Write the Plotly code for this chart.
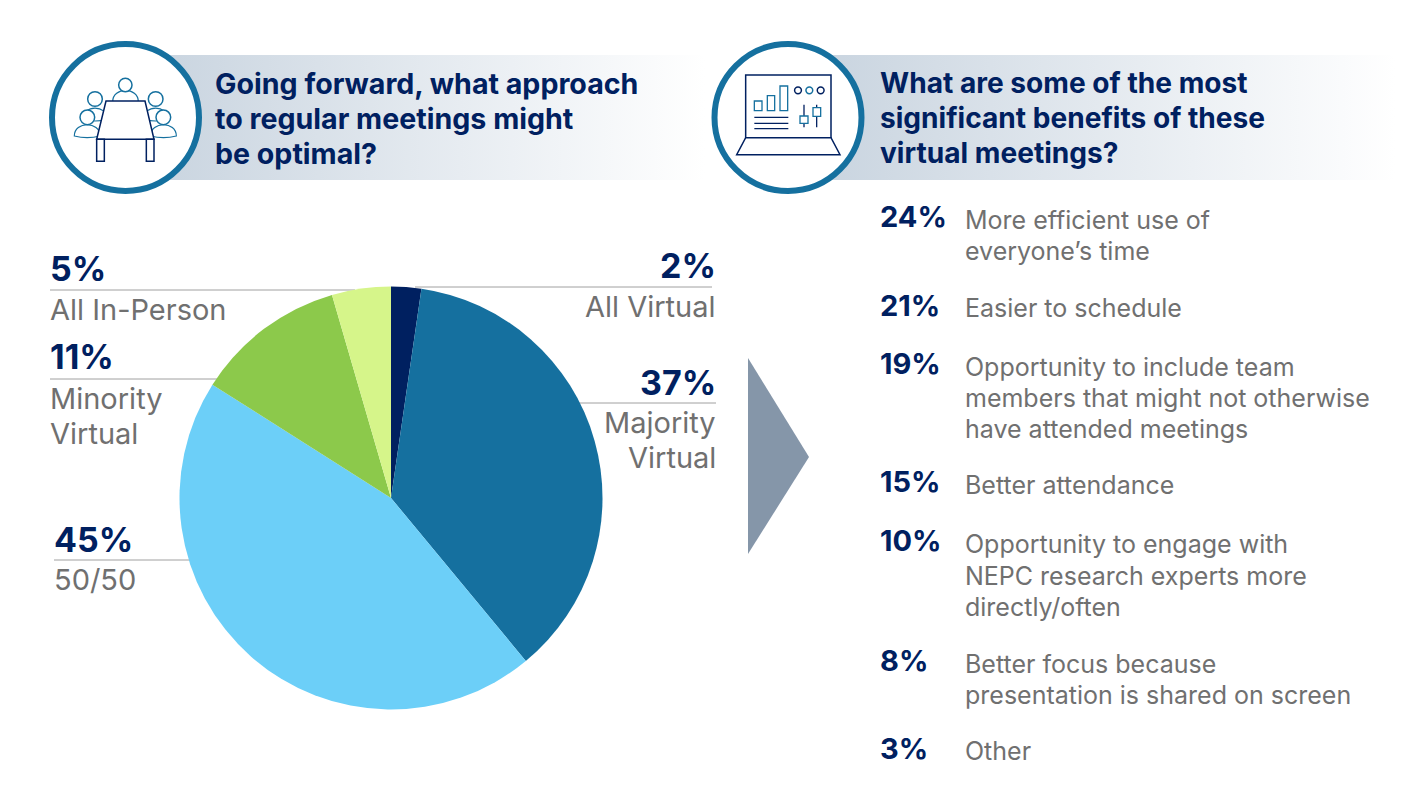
import plotly.graph_objects as go

NAVY = "#002060"
TEAL = "#15709F"
GRAY = "#707070"

pie_labels = ["All Virtual", "Majority Virtual", "50/50", "Minority Virtual", "All In-Person"]
pie_values = [2.3, 36.7, 45, 11.5, 4.5]
pie_colors = ["#002060", "#15709F", "#6CCFF8", "#8CC94B", "#D6F58A"]

titles_left = ["Going forward, what approach", "to regular meetings might", "be optimal?"]
titles_right = ["What are some of the most", "significant benefits of these", "virtual meetings?"]

pie_callouts = [
    ("5%", ["All In-Person"], 50, 268.5, "left", 50, 355, 290),
    ("11%", ["Minority", "Virtual"], 50, 356, "left", 50, 225, 379),
    ("45%", ["50/50"], 54, 539, "left", 54, 195, 560),
    ("2%", ["All Virtual"], 716, 265, "right", 415, 712, 287),
    ("37%", ["Majority", "Virtual"], 716, 382, "right", 570, 716, 403),
]

benefit_pcts = ["24%", "21%", "19%", "15%", "10%", "8%", "3%"]
benefit_pct_y = [216, 305, 363, 481, 540, 660, 748]
benefit_lines = [
    ["More efficient use of", "everyone’s time"],
    ["Easier to schedule"],
    ["Opportunity to include team", "members that might not otherwise", "have attended meetings"],
    ["Better attendance"],
    ["Opportunity to engage with", "NEPC research experts more", "directly/often"],
    ["Better focus because", "presentation is shared on screen"],
    ["Other"],
]
benefit_line_y = [[220, 251], [308], [367, 398, 429], [485], [544, 576, 607], [664, 695], [751]]

W, H = 1411, 809
FONT = "Inter"
fig = go.Figure()

for x0, x1 in [(125, 705), (788, 1395)]:
    fig.add_trace(go.Scatter(
        x=[x0, x1, x1, x0, x0], y=[55, 55, 180, 180, 55], mode="lines", line=dict(width=0),
        fill="toself", hoverinfo="skip", showlegend=False,
        fillgradient=dict(type="horizontal", colorscale=[[0, "#C6D2DE"], [1, "#FFFFFF"]]),
    ))

fig.add_trace(go.Pie(
    labels=pie_labels, values=pie_values, sort=False, direction="clockwise", rotation=0,
    marker=dict(colors=pie_colors, line=dict(width=0)), textinfo="none", showlegend=False,
    domain=dict(x=[179.5 / W, 602.5 / W], y=[1 - 709.5 / H, 1 - 286.5 / H]),
))

shapes, ann = [], []

def line(x0, y0, x1, y1, color, w=1.0, layer="above"):
    shapes.append(dict(type="line", x0=x0, y0=y0, x1=x1, y1=y1, xref="x", yref="y", layer=layer,
                       line=dict(color=color, width=w)))

def circle(cx, cy, r, color, w, fill="white"):
    shapes.append(dict(type="circle", x0=cx - r, x1=cx + r, y0=cy - r, y1=cy + r, xref="x", yref="y",
                       layer="above", fillcolor=fill, line=dict(color=color, width=w)))

def poly(pts, color, w, fill="white", close=True):
    d = "M" + " L".join(f"{x},{y}" for x, y in pts) + (" Z" if close else "")
    shapes.append(dict(type="path", path=d, xref="x", yref="y", layer="above", fillcolor=fill,
                       line=dict(color=color, width=w)))

def text(x, y, s, size, color, bold=False, anchor="left"):
    ann.append(dict(x=x, y=y, xref="x", yref="y", text=f"<b>{s}</b>" if bold else s, showarrow=False,
                    xanchor=anchor, yanchor="middle", align=anchor, borderpad=0, borderwidth=0,
                    font=dict(family=FONT, size=size, color=color)))

circle(125.5, 117.5, 73.5, TEAL, 6)
circle(788, 117.5, 73.5, TEAL, 6)

Z1 = lambda x, y: (30 + x / 3, 30 + y / 3)
def person(hx, hy, r, sl, sr, by):
    cx = (sl + sr) / 2
    x0, y0 = Z1(sl, by); x1, y1 = Z1(sr, by)
    xc0, yc0 = Z1(sl, by - 45); xc1, yc1 = Z1(sr, by - 45)
    xm, ym = Z1(cx, by + 10)
    shapes.append(dict(type="path", xref="x", yref="y", layer="above", fillcolor="white",
                       path=f"M{x0},{y0} C{xc0},{yc0} {xc1},{yc1} {x1},{y1} Q{xm},{ym} {x0},{y0} Z",
                       line=dict(color=TEAL, width=1.2)))
    cxp, cyp = Z1(hx, hy)
    circle(cxp, cyp, r / 3, TEAL, 1.5)

person(195, 207, 22, 158, 232, 268)
person(377, 207, 22, 340, 414, 268)
person(172, 262, 22, 133, 210, 318)
person(400, 262, 22, 362, 439, 318)
person(286, 165, 20, 248, 325, 215)
poly([Z1(228, 213), Z1(345, 213), Z1(372, 328), Z1(200, 328)], NAVY, 1.5)
poly([Z1(200, 328), Z1(223, 328), Z1(223, 394), Z1(200, 394)], NAVY, 1.5)
poly([Z1(349, 328), Z1(372, 328), Z1(372, 394), Z1(349, 394)], NAVY, 1.5)

Z2 = lambda x, y: (700 + x / 3, 30 + y / 3)
poly([Z2(137, 135), Z2(393, 135), Z2(393, 323), Z2(137, 323)], NAVY, 1.5)
poly([Z2(137, 323), Z2(393, 323), Z2(420, 374), Z2(110, 374)], NAVY, 1.5)
for a, b, c, d in [(163, 213, 186, 242), (202, 197, 224, 242), (240, 168, 263, 242)]:
    poly([Z2(a, b), Z2(c, b), Z2(c, d), Z2(a, d)], TEAL, 1.3)
for yy in (262, 280, 296):
    line(*Z2(163, yy), *Z2(265, yy), NAVY, 1.3)
for xx, col in [(294, NAVY), (328, TEAL), (362, NAVY)]:
    cx, cy = Z2(xx, 181)
    circle(cx, cy, 3.4, col, 1.5)
line(*Z2(312, 224), *Z2(312, 292), NAVY, 1.3)
line(*Z2(350, 224), *Z2(350, 292), NAVY, 1.3)
poly([Z2(300, 258), Z2(324, 258), Z2(324, 280), Z2(300, 280)], TEAL, 1.3)
poly([Z2(339, 233), Z2(362, 233), Z2(362, 259), Z2(339, 259)], TEAL, 1.3)

poly([(748, 358), (809, 457), (748, 554)], "#8596A9", 0, fill="#8596A9")

for s, y in zip(titles_left, (83, 118, 153)):
    text(215, y, s, 28.6, NAVY, True)
for s, y in zip(titles_right, (83, 118, 153)):
    text(880, y, s, 28.1, NAVY, True)

for pct, labs, x, y, anchor, lx0, lx1, ly in pie_callouts:
    text(x, y, pct, 34, NAVY, True, anchor)
    line(lx0, ly, lx1, ly, "#A0A0A0", 1, layer="below")
    for i, l in enumerate(labs):
        text(x, ly + 19 + i * 35, l, 29, GRAY, False, anchor)

for pct, py, lines, ys in zip(benefit_pcts, benefit_pct_y, benefit_lines, benefit_line_y):
    text(880, py, pct, 29, NAVY, True)
    for l, yy in zip(lines, ys):
        text(965, yy, l, 25, GRAY)

fig.update_layout(
    width=W, height=H, margin=dict(l=0, r=0, t=0, b=0), paper_bgcolor="white", plot_bgcolor="white",
    xaxis=dict(range=[0, W], visible=False, fixedrange=True),
    yaxis=dict(range=[H, 0], visible=False, fixedrange=True),
    shapes=shapes, annotations=ann, showlegend=False,
)
fig.write_html("out.html", config=dict(displayModeBar=False), post_script="document.body.style.margin='0';")
